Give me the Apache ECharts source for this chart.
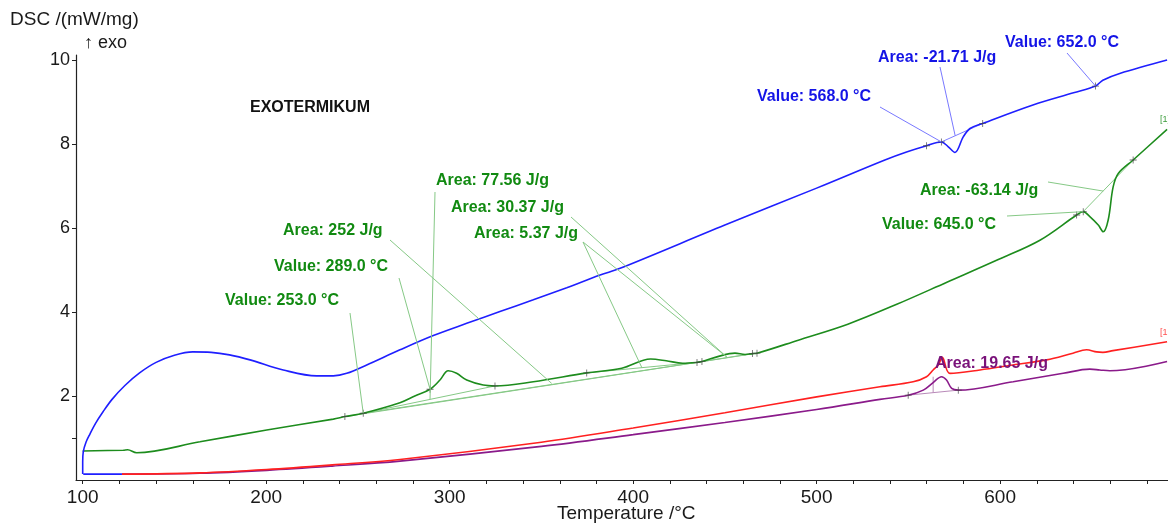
<!DOCTYPE html>
<html>
<head>
<meta charset="utf-8">
<script src="https://cdn.jsdelivr.net/npm/echarts@6/dist/echarts.min.js"></script>
<style>
  html, body { margin: 0; padding: 0; background: #fff; }
  #chart { width: 1168px; height: 524px; }
</style>
</head>
<body>
<div id="chart"></div>
<script>
// DSC curves: [temperature °C, DSC mW/mg]
const blueStart = [[121.4,0.14],[100.3,0.14]];
const blueCurve = [
  [100.0,0.14],[100.0,0.43],[100.3,0.67],[101.8,0.90],[104.0,1.10],[107.0,1.35],[111.0,1.62],
  [116.0,1.92],[123.0,2.25],[131.0,2.55],[140.0,2.80],[150.0,2.97],[160.0,3.05],[170.0,3.04],
  [180.0,2.98],[191.2,2.86],[209.3,2.62],[227.5,2.48],[236.6,2.48],[243.9,2.54],[254.8,2.74],
  [272.9,3.10],[291.1,3.44],[309.3,3.73],[327.4,4.01],[345.6,4.29],[363.8,4.58],[382.0,4.88],
  [392.9,5.04],[450.0,6.07],[500.0,6.95],[537.2,7.62],[549.0,7.81],[559.9,7.96],[568.0,8.05],
  [571.6,7.94],[575.4,7.80],[579.9,8.17],[583.6,8.37],[590.5,8.49],[617.9,8.93],[640.0,9.22],
  [652.0,9.38],[656.0,9.52],[665.2,9.68],[691.0,10.0]
];
const greenCurve = [
  [100.0,0.69],[122.1,0.71],[124.5,0.72],[129.4,0.65],[163.9,0.91],[200.3,1.19],[236.6,1.45],
  [242.9,1.51],[252.9,1.59],[272.9,1.84],[281.0,2.00],[289.3,2.16],[294.7,2.38],[299.2,2.60],
  [303.8,2.54],[309.3,2.38],[318.3,2.26],[324.7,2.24],[345.6,2.34],[374.7,2.55],[393.8,2.66],
  [409.5,2.88],[418.0,2.84],[427.0,2.78],[434.8,2.80],[437.5,2.82],[447.0,2.95],[455.5,3.02],
  [461.0,2.99],[465.0,3.01],[467.5,3.02],[490.0,3.33],[517.0,3.71],[544.0,4.19],[571.0,4.71],
  [599.0,5.25],[621.7,5.71],[641.7,6.31],[645.3,6.39],[648.9,6.27],[653.5,6.07],[656.2,5.91],
  [658.9,6.19],[661.6,6.98],[664.4,7.30],[672.5,7.62],[691.0,8.35]
];
const redCurve = [
  [121.4,0.14],[163.9,0.17],[200.3,0.25],[236.0,0.36],[272.9,0.49],[350.0,0.90],[400.0,1.24],
  [450.0,1.60],[500.0,1.98],[534.5,2.22],[552.6,2.34],[559.9,2.46],[563.5,2.62],[566.3,2.74],
  [568.5,2.92],[572.6,2.54],[589.0,2.62],[607.0,2.74],[625.3,2.86],[639.7,3.02],[647.1,3.10],
  [652.6,3.05],[656.0,3.04],[661.5,3.08],[691.0,3.29]
];
const purpleCurve = [
  [121.4,0.14],[163.9,0.16],[200.3,0.23],[236.0,0.33],[272.9,0.45],[350.0,0.80],[400.0,1.08],
  [450.0,1.37],[500.0,1.68],[534.5,1.92],[549.9,2.02],[558.1,2.14],[563.5,2.32],[568.1,2.46],
  [570.8,2.38],[573.6,2.18],[577.2,2.14],[607.1,2.34],[634.4,2.54],[648.9,2.64],[654.3,2.62],
  [659.8,2.60],[691.0,2.82]
];

// evaluation limits ("+" marks) on each curve
const blueMarks   = [[559.9,7.96],[568.0,8.05],[590.5,8.49],[652.0,9.38]];
const greenMarks  = [[242.9,1.51],[252.9,1.59],[289.3,2.16],[324.7,2.24],[374.7,2.55],
                     [434.8,2.80],[437.5,2.82],[465.0,3.01],[467.5,3.02],[641.7,6.31],[645.3,6.39],[672.5,7.62]];
const purpleMarks = [[549.9,2.02],[577.2,2.14]];

// peak-area baselines, each a pair of limits
const blueBaselines   = [[[568.0,8.05],[590.5,8.49]]];
const greenBaselines  = [
  [[252.9,1.59],[324.7,2.24]],
  [[242.9,1.51],[467.5,3.02]],
  [[252.9,1.59],[437.5,2.82]],
  [[374.7,2.55],[434.8,2.80]],
  [[437.5,2.82],[465.0,3.01]],
  [[645.3,6.39],[672.5,7.62]]
];
const purpleBaselines = [[[549.9,2.02],[577.2,2.14]],[[563.5,2.46],[563.5,2.08]]];

// axis ticks
const xLabels = [100,200,300,400,500,600];
const xTicks  = [100,120,140,160,180,200,220,240,260,280,300,320,340,360,380,400,420,440,460,480,
                 500,520,540,560,580,600,620,640,660,680];
const yLabels = [2,4,6,8,10];
const yTicks  = [1,2,4,6,8,10];

// annotation texts: label, colour, left/centre pixel anchor, leader starts, leader targets [T, value]
const annotations = [
  {text:'Value: 652.0 °C', color:'#1414e6', x:1005, y:43,  from:[1067,53],  to:[[652.0,9.38]]},
  {text:'Area: -21.71 J/g', color:'#1414e6', x:878,  y:58,  from:[940,67],   to:[[575.5,8.20]]},
  {text:'Value: 568.0 °C', color:'#1414e6', x:757,  y:97,  from:[880,107],  to:[[568.0,8.05]]},
  {text:'Area: 77.56 J/g',  color:'#118a11', x:436,  y:181, from:[435,192],  to:[[289.3,1.92]]},
  {text:'Area: 30.37 J/g',  color:'#118a11', x:451,  y:208, from:[571,217],  to:[[451.0,2.93]]},
  {text:'Area: 252 J/g',    color:'#118a11', x:283,  y:231, from:[390,240],  to:[[355.6,2.30]]},
  {text:'Area: 5.37 J/g',   color:'#118a11', x:474,  y:234, from:[583,242],  to:[[404.8,2.67],[451.0,2.93]]},
  {text:'Value: 289.0 °C',  color:'#118a11', x:274,  y:267, from:[399,278],  to:[[289.3,2.16]]},
  {text:'Value: 253.0 °C',  color:'#118a11', x:225,  y:301, from:[350,313],  to:[[252.9,1.59]]},
  {text:'Area: -63.14 J/g', color:'#118a11', x:920,  y:191, from:[1048,182], to:[[656.2,6.88]]},
  {text:'Value: 645.0 °C',  color:'#118a11', x:882,  y:225, from:[1007,216], to:[[645.3,6.39]]},
  {text:'Area: 19.65 J/g',  color:'#7a127a', x:935,  y:364, from:null,       to:[]}
];

const COL = {blue:'#1f1fff', green:'#1d8c1d', red:'#ff2020', purple:'#8a1a8a'};
const LEAD = {'#1414e6':'#7878ff', '#118a11':'#86c986', '#7a127a':'#b27ab2'};
const plus = 'path://M4.4,0h1.2v4.4h4.4v1.2h-4.4v4.4h-1.2v-4.4h-4.4v-1.2h4.4z';

function curve(name, data, color, z) {
  return {name, type:'line', data, showSymbol:false, symbol:'none', z, smooth:0.35,
          lineStyle:{color, width:1.6}, animation:false};
}
function baselines(list, color) {
  return list.map(pair => ({type:'line', data:pair, showSymbol:false, symbol:'none', z:2,
    lineStyle:{color, width:1}, animation:false, silent:true}));
}
function marks(data) {
  return {type:'scatter', data, symbol:plus, symbolSize:7, z:5, animation:false,
          itemStyle:{color:'#444'}, silent:true};
}

const chart = echarts.init(document.getElementById('chart'), null, {renderer:'canvas'});
const axisText = {color:'#1a1a1a', fontFamily:'Liberation Sans, Arial, sans-serif', fontSize:19};

chart.setOption({
  backgroundColor:'#ffffff',
  animation:false,
  grid:{left:76, right:0, top:55, bottom:44},
  xAxis:{
    type:'value', min:96.35, max:691.5,
    axisLine:{show:true, lineStyle:{color:'#222', width:1.2}},
    axisTick:{show:true, length:4, lineStyle:{color:'#222'}, customValues:xTicks},
    axisLabel:{...axisText, margin:8, customValues:xLabels},
    splitLine:{show:false}
  },
  yAxis:{
    type:'value', min:0, max:10.12,
    axisLine:{show:true, lineStyle:{color:'#222', width:1.2}},
    axisTick:{show:true, length:4, lineStyle:{color:'#222'}, customValues:yTicks},
    axisLabel:{...axisText, fontSize:18, margin:6, customValues:yLabels},
    splitLine:{show:false}
  },
  series:[
    ...baselines(blueBaselines, '#7d7dff'),
    ...baselines(greenBaselines, '#86c986'),
    ...baselines(purpleBaselines, '#b98ab9'),
    curve('purple', purpleCurve, COL.purple, 3),
    curve('red', redCurve, COL.red, 3),
    curve('green', greenCurve, COL.green, 3),
    {type:'line', data:blueStart, showSymbol:false, symbol:'none', z:4,
     lineStyle:{color:COL.blue, width:1.6}, animation:false},
    curve('blue', blueCurve, COL.blue, 4),
    marks(blueMarks), marks(greenMarks), marks(purpleMarks)
  ]
});

// titles, axis names and peak annotations
const font = 'Liberation Sans, Arial, sans-serif';
const graphics = [
  {type:'text', left:10, top:10, style:{text:'DSC /(mW/mg)', fill:'#1a1a1a', font:'19px ' + font}},
  {type:'text', left:84, top:34, style:{text:'↑ exo', fill:'#1a1a1a', font:'18px ' + font}},
  {type:'text', left:557, top:504, style:{text:'Temperature /°C', fill:'#1a1a1a', font:'19px ' + font}},
  {type:'text', left:250, top:100, style:{text:'EXOTERMIKUM', fill:'#111', font:'bold 16px ' + font}},
  {type:'text', left:1160, top:115, style:{text:'[1]', fill:'#3c9c3c', font:'9px ' + font}},
  {type:'text', left:1160, top:328, style:{text:'[1.]', fill:'#ff5050', font:'9px ' + font}}
];
annotations.forEach(a => {
  a.to.forEach(t => {
    const p = chart.convertToPixel({xAxisIndex:0, yAxisIndex:0}, t);
    graphics.push({type:'line', z:6, silent:true,
      shape:{x1:a.from[0], y1:a.from[1], x2:p[0], y2:p[1]},
      style:{stroke:LEAD[a.color], lineWidth:1}});
  });
  graphics.push({type:'text', z:10, x:a.x, y:a.y,
    style:{text:a.text, fill:a.color, font:'bold 16px ' + font, textVerticalAlign:'middle'}});
});
chart.setOption({graphic:graphics});
</script>
</body>
</html>
